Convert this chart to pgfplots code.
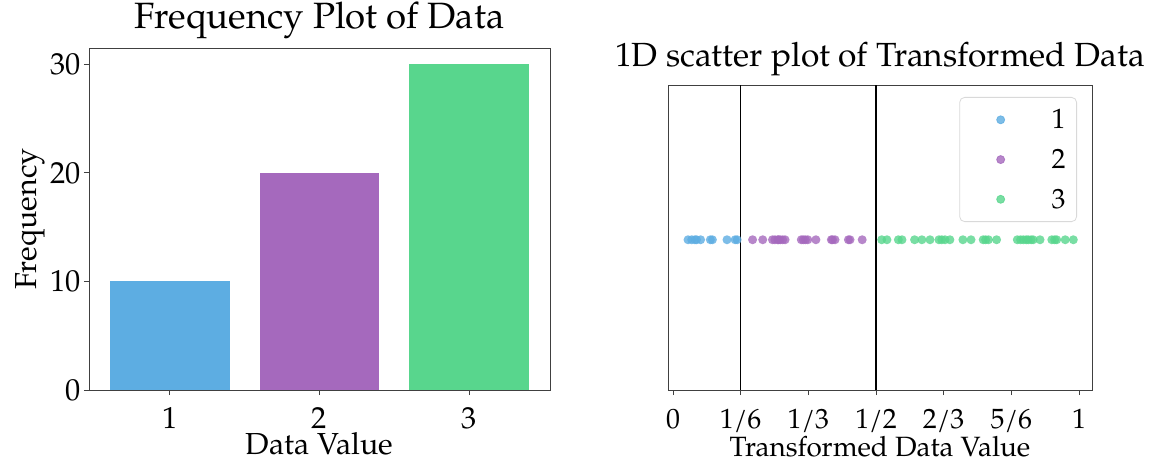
\documentclass[border=0pt]{standalone}
\usepackage{fontspec}
\setmainfont{TeX Gyre Pagella}
\usepackage{pgfplots}
\pgfplotsset{compat=1.18}
\definecolor{cb}{HTML}{5DADE2}
\definecolor{cp}{HTML}{A569BD}
\definecolor{cg}{HTML}{58D68D}
\begin{document}
\begin{tikzpicture}
\useasboundingbox (0bp,0bp) rectangle (1151bp,462bp);
\pgfplotsset{
  every axis/.append style={
    scale only axis,
    /pgf/number format/assume math mode=true,
    axis line style={draw=black!75, line width=0.9bp},
    tick style={draw=black!75, line width=0.9bp},
    tick align=outside,
    major tick length=5bp,
  },
  sc/.style={only marks, mark=*, mark size=4.5bp, color=#1,
    mark options={draw opacity=0, fill opacity=0.8},
    legend image code/.code={\path[draw=none, fill=none] (-32bp,-4bp) rectangle (19bp,4bp);
      \fill[#1, opacity=0.8, sharp corners] (0bp,0bp) circle (4bp);}},
}
\begin{axis}[
  at={(89bp,72bp)}, anchor=south west,
  width=461bp, height=342bp,
  clip mode=individual,
  xmin=0.46, xmax=3.54, ymin=0, ymax=31.5,
  xtick={1,2,3}, ytick={0,10,20,30},
  xtick pos=bottom, ytick pos=left,
  tick label style={font=\fontsize{30.5}{34}\selectfont, text=black},
  xticklabel style={anchor=base, yshift=-33bp, inner sep=1bp},
  title={Frequency Plot of Data},
  title style={font=\fontsize{36.7}{40}\selectfont, at={(axis description cs:0.5,1)}, anchor=south, yshift=0bp},
  xlabel={Data Value},
  label style={font=\fontsize{30.5}{34}\selectfont},
  xlabel style={at={(axis description cs:0.5,0)}, anchor=base, yshift=-64bp, inner sep=0.5bp},
  ybar, bar width=119.5bp, bar shift=0pt,
]
\addplot[fill=cb, draw=none] coordinates {(1,10)};
\addplot[fill=cp, draw=none] coordinates {(2,20)};
\addplot[fill=cg, draw=none] coordinates {(3,30)};
\node[rotate=90, anchor=south, inner sep=1bp, font=\fontsize{30.5}{34}\selectfont]
  at ([xshift=-43bp]axis description cs:0,0.5) {Frequency};
\end{axis}
\begin{axis}[
  at={(668bp,72bp)}, anchor=south west,
  width=424bp, height=305bp,
  xmin=-0.0123, xmax=1.032, ymin=-1, ymax=1.03,
  xtick={0,0.16667,0.33333,0.5,0.66667,0.83333,1},
  xticklabels={0,1/6,1/3,1/2,2/3,5/6,1},
  ytick=\empty, xtick pos=bottom,
  tick label style={font=\fontsize{28}{32}\selectfont, text=black},
  xticklabel style={anchor=base, yshift=-33bp, inner sep=1bp},
  title={1D scatter plot of Transformed Data},
  title style={font=\fontsize{33.6}{38}\selectfont, at={(axis description cs:0.5,1)}, anchor=south, yshift=0bp},
  xlabel={Transformed Data Value},
  label style={font=\fontsize{28}{32}\selectfont},
  xlabel style={at={(axis description cs:0.5,0)}, anchor=base, yshift=-66bp, inner sep=0.5bp},
  legend style={at={(1,1)}, anchor=north east, xshift=-15bp, yshift=-12bp,
    draw=black!15, line width=0.8bp, rounded corners=5bp, font=\fontsize{28}{32}\selectfont,
    row sep=15bp, column sep=30bp, inner xsep=9bp, inner ysep=10bp},
  legend cell align=left,
]
\addplot[sc=cb] coordinates {
(0.037,0)(0.046,0)(0.054,0)(0.058,0)(0.068,0)(0.092,0)(0.097,0)(0.133,0)(0.153,0)(0.158,0)};
\addlegendentry{1}
\addplot[sc=cp] coordinates {
(0.196,0)(0.221,0)(0.245,0)(0.251,0)(0.258,0)(0.260,0)(0.264,0)(0.270,0)(0.276,0)(0.316,0)
(0.321,0)(0.326,0)(0.332,0)(0.352,0)(0.390,0)(0.393,0)(0.399,0)(0.432,0)(0.436,0)(0.466,0)};
\addlegendentry{2}
\addplot[sc=cg] coordinates {
(0.514,0)(0.527,0)(0.555,0)(0.564,0)(0.595,0)(0.613,0)(0.633,0)(0.655,0)(0.662,0)(0.670,0)
(0.682,0)(0.714,0)(0.734,0)(0.764,0)(0.770,0)(0.777,0)(0.797,0)(0.848,0)(0.856,0)(0.863,0)
(0.870,0)(0.875,0)(0.882,0)(0.887,0)(0.904,0)(0.933,0)(0.940,0)(0.945,0)(0.966,0)(0.986,0)};
\addlegendentry{3}
\draw[black, line width=1.5bp] (axis cs:0.16667,-1) -- (axis cs:0.16667,1.03);
\draw[black, line width=1.5bp] (axis cs:0.5,-1) -- (axis cs:0.5,1.03);
\end{axis}
\end{tikzpicture}
\end{document}
